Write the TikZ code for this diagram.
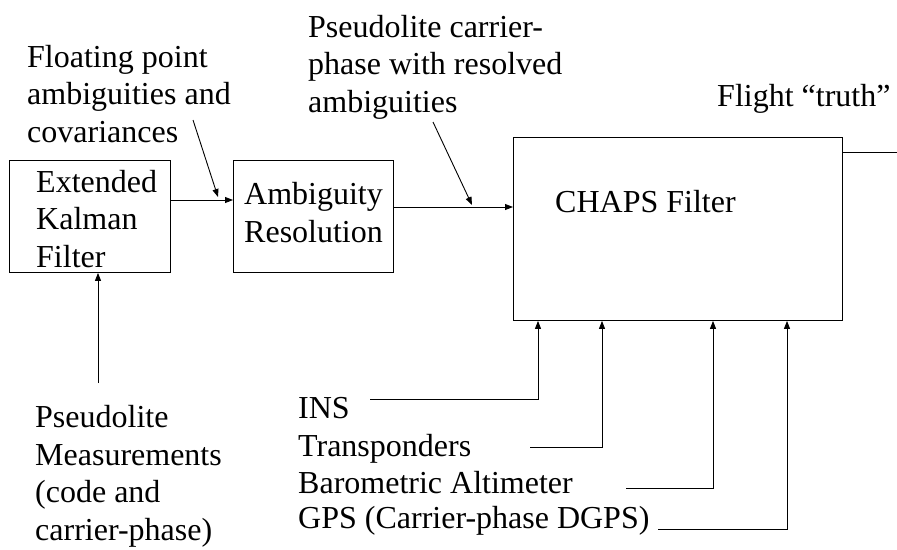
\documentclass[tikz,border=0pt]{standalone}
\usepackage{fontspec}
\setmainfont{Liberation Serif}
\usetikzlibrary{arrows.meta}
\begin{document}
\begin{tikzpicture}[x=1pt,y=-1pt,
  box/.style={draw,line width=0.9pt,inner sep=0pt,anchor=north west},
  lbl/.style={inner sep=0pt,anchor=base west,align=left,font=\fontsize{32}{37.5}\selectfont},
  conn/.style={line width=0.9pt},
  arr/.style={conn,-{Triangle[length=8pt,width=6pt]}}]
\useasboundingbox (0,0) rectangle (897,549);
% boxes
\node[box,minimum width=161pt,minimum height=112pt] (ekf) at (9,160) {};
\node[box,minimum width=160pt,minimum height=112pt] (amb) at (233,160) {};
\node[box,minimum width=329pt,minimum height=183pt] (chaps) at (513,137) {};
% box texts (anchor = baseline of last line)
\node[lbl] (ekft) at (36,267) {Extended\\Kalman\\Filter};
\node[lbl] (ambt) at (244,242) {Ambiguity\\Resolution};
\node[lbl] (chapst) at (555,212) {CHAPS Filter};
% labels
\node[lbl] (fpl) at (27,142) {Floating point\\ambiguities and\\covariances};
\node[lbl] (pcl) at (308,112) {Pseudolite carrier-\\phase with resolved\\ambiguities};
\node[lbl] (pml) at (35,540) {Pseudolite\\Measurements\\(code and\\carrier-phase)};
\node[lbl] (flt) at (717,106) {Flight ``truth''};
\node[lbl] (ins) at (298,418) {INS};
\node[lbl] (trp) at (298,456) {Transponders};
\node[lbl] (baro) at (298,493) {Barometric Altimeter};
\node[lbl] (gps) at (298,528) {GPS (Carrier-phase DGPS)};
% coordinates
\coordinate (y1) at (0,200);
\coordinate (y2) at (0,207);
\coordinate (y3) at (0,152);
\coordinate (outr) at (897,152);
\coordinate (fps) at (193,120);
\coordinate (fpe) at (218,197);
\coordinate (pcs) at (433,122);
\coordinate (pce) at (472,205);
\coordinate (pms) at (98,383);
\coordinate (inss) at (370,399);
\coordinate (insx) at (538,0);
\coordinate (trps) at (530,447);
\coordinate (trpx) at (602,0);
\coordinate (baros) at (626,488);
\coordinate (barox) at (713,0);
\coordinate (gpss) at (658,529);
\coordinate (gpsx) at (787,0);
% connectors
\draw[arr] (ekf.east |- y1) -- (amb.west |- y1);
\draw[arr] (amb.east |- y2) -- (chaps.west |- y2);
\draw[conn] (chaps.east |- y3) -- (outr);
\draw[arr] (fps) -- (fpe);
\draw[arr] (pcs) -- (pce);
\draw[arr] (pms) -- (pms |- ekf.south);
\draw[arr] (inss) -| (insx |- chaps.south);
\draw[arr] (trps) -| (trpx |- chaps.south);
\draw[arr] (baros) -| (barox |- chaps.south);
\draw[arr] (gpss) -| (gpsx |- chaps.south);
\end{tikzpicture}
\end{document}
